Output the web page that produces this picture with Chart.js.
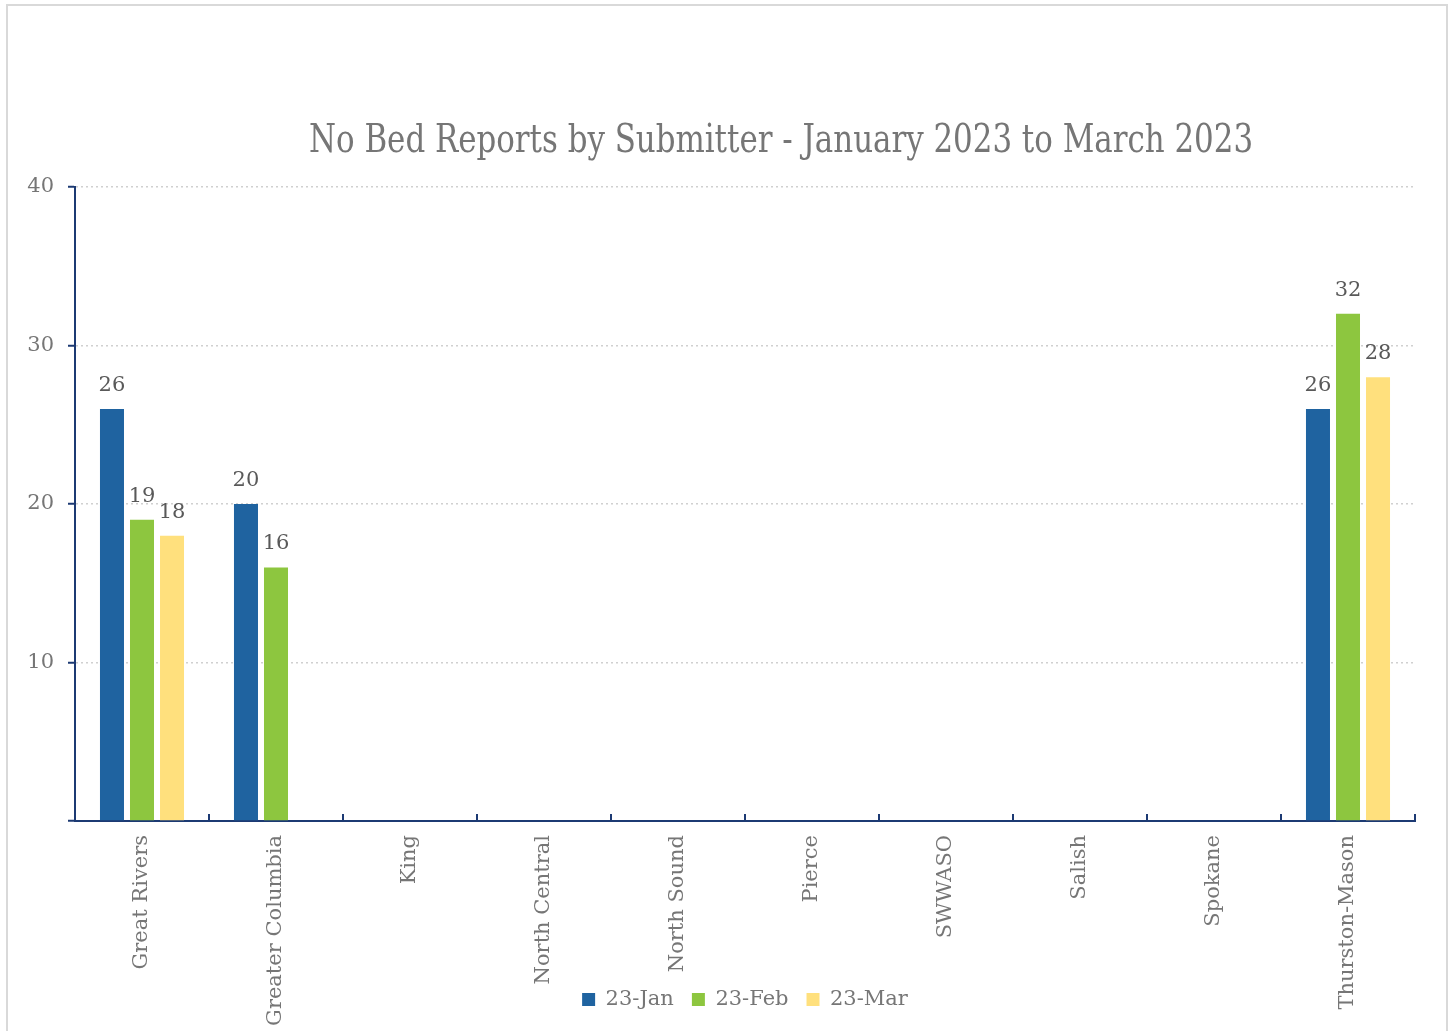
<!DOCTYPE html>
<html>
<head>
<meta charset="utf-8">
<script src="https://cdn.jsdelivr.net/npm/chart.js@4.4.0/dist/chart.umd.min.js"></script>
<style>
html, body { margin: 0; padding: 0; background: #fff; overflow: hidden; }
#wrap { position: relative; width: 1453px; height: 1031px; }
#frame { position: absolute; left: 6px; top: 4px; width: 1442px; height: 1060px;
         border: 2px solid #d9d9d9; box-sizing: border-box; }
#title { position: absolute; left: 309px; top: 116px; white-space: nowrap;
         font-family: "DejaVu Serif Condensed", "DejaVu Serif", serif; font-size: 40px;
         line-height: 44px; color: #767676; transform-origin: 0 0; }
canvas { position: absolute; left: 0; top: 0; }
</style>
</head>
<body>
<div id="wrap">
  <div id="frame"></div>
  <canvas id="submitter_chart" width="1453" height="1031"></canvas>
  <span id="title">No Bed Reports by Submitter - January 2023 to March 2023</span>
</div>
<script>
// chart values
var categories = ["Great Rivers", "Greater Columbia", "King", "North Central", "North Sound",
                  "Pierce", "SWWASO", "Salish", "Spokane", "Thurston-Mason"];
var series_names = ["23-Jan", "23-Feb", "23-Mar"];
var jan_counts = [26, 20, null, null, null, null, null, null, null, 26];
var feb_counts = [19, 16, null, null, null, null, null, null, null, 32];
var mar_counts = [18, null, null, null, null, null, null, null, null, 28];
var y_ticks = [10, 20, 30, 40];

var colors = ["#1F63A0", "#8DC63F", "#FFE07D"];
var axis_color = "#1c3a73";
var font_family = "'DejaVu Serif', serif";

// squeeze the title to the width it has in the picture
var title = document.getElementById("title");
title.style.transform = "scaleX(" + (944 / title.offsetWidth) + ")";

// small upward ticks between categories, like the original axis
var category_ticks = {
    id: "category_ticks",
    afterDraw: function(chart) {
        var x = chart.scales.x;
        var ctx = chart.ctx;
        var step = x.getPixelForValue(1) - x.getPixelForValue(0);
        var start = x.getPixelForValue(0) - step / 2;
        ctx.save();
        ctx.strokeStyle = axis_color;
        ctx.lineWidth = 2;
        for (var i = 0; i <= categories.length; i++) {
            var px = Math.round(start + i * step);
            ctx.beginPath();
            ctx.moveTo(px, x.top);
            ctx.lineTo(px, x.top - 7);
            ctx.stroke();
        }
        ctx.restore();
    }
};

// value labels over each bar
var bar_labels = {
    id: "bar_labels",
    afterDatasetsDraw: function(chart) {
        var ctx = chart.ctx;
        ctx.save();
        ctx.font = "21px " + font_family;
        ctx.fillStyle = "#595959";
        ctx.textAlign = "center";
        ctx.textBaseline = "alphabetic";
        chart.data.datasets.forEach(function(ds, di) {
            chart.getDatasetMeta(di).data.forEach(function(bar, i) {
                var v = ds.data[i];
                if (!v) return;
                ctx.fillText(String(v), bar.x, bar.y - 18);
            });
        });
        ctx.restore();
    }
};

var data = {
    labels: categories,
    datasets: [
        { label: series_names[0], data: jan_counts, backgroundColor: colors[0] },
        { label: series_names[1], data: feb_counts, backgroundColor: colors[1] },
        { label: series_names[2], data: mar_counts, backgroundColor: colors[2] }
    ]
};

var options = {
    responsive: false,
    animation: false,
    devicePixelRatio: 1,
    categoryPercentage: 0.672,
    barPercentage: 0.8,
    layout: { padding: { left: 0, right: 38, top: 187, bottom: 11 } },
    plugins: {
        title: { display: false },
        tooltip: { enabled: false },
        legend: {
            position: "bottom",
            fullSize: false,
            labels: {
                boxWidth: 13,
                boxHeight: 13,
                padding: 18,
                color: "#767676",
                font: { family: font_family, size: 21 }
            }
        }
    },
    scales: {
        x: {
            offset: true,
            grid: { display: false },
            border: { display: true, color: axis_color, width: 2 },
            ticks: {
                autoSkip: false,
                maxRotation: 90,
                minRotation: 90,
                padding: 6,
                color: "#767676",
                font: { family: font_family, size: 21 }
            },
            afterFit: function(scale) {
                // long labels run down past the legend line, as in the original
                scale.height = 150;
                scale._computeLabelArea = function() { return undefined; };
            }
        },
        y: {
            min: 0,
            max: 40,
            afterBuildTicks: function(scale) {
                scale.ticks = [0].concat(y_ticks).map(function(v) { return { value: v }; });
            },
            grid: {
                color: "#d0d0d0",
                lineWidth: 1.5,
                tickColor: axis_color,
                tickWidth: 2,
                tickLength: 7
            },
            border: { display: true, color: axis_color, width: 2, dash: [2, 3] },
            ticks: {
                padding: 14,
                color: "#767676",
                font: { family: font_family, size: 21 },
                callback: function(v) { return v === 0 ? "" : v; }
            },
            afterFit: function(scale) { scale.width = 75; }
        }
    }
};

var ctx = document.getElementById("submitter_chart");
var chart = new Chart(ctx, {
    type: "bar",
    data: data,
    options: options,
    plugins: [category_ticks, bar_labels]
});
</script>
</body>
</html>
